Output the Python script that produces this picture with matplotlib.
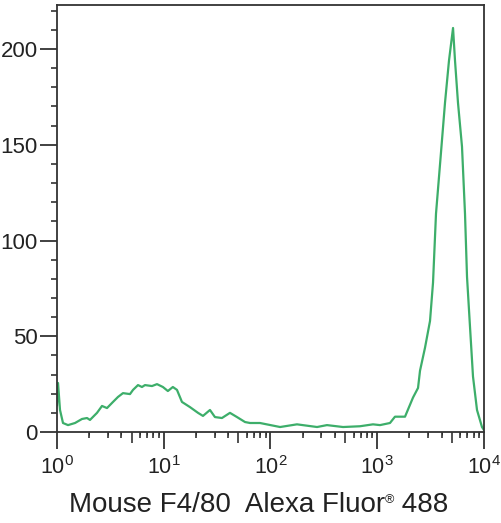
import numpy as np
import matplotlib
matplotlib.use("Agg")
import matplotlib.pyplot as plt
from matplotlib.ticker import LogLocator, FixedLocator, MultipleLocator, NullFormatter

plt.rcParams['font.family'] = ['Liberation Sans', 'DejaVu Sans']
plt.rcParams['mathtext.fontset'] = 'custom'
plt.rcParams['mathtext.rm'] = 'Liberation Sans'
plt.rcParams['mathtext.it'] = 'Liberation Sans:italic'
plt.rcParams['mathtext.bf'] = 'Liberation Sans:bold'

# Fluorescence intensity (x) and event counts (y)
intensity = [1.0, 1.022, 1.067, 1.138, 1.268, 1.475, 1.715, 1.91, 2.037, 2.37,
             2.64, 2.94, 3.346, 3.726, 4.149, 4.829, 5.155, 5.739, 6.251, 6.669,
             7.762, 8.642, 9.822, 10.93, 12.17, 13.3, 14.81, 17.61, 20.94, 23.31,
             27.1, 30.17, 35.08, 41.71, 48.55, 57.75, 64.3, 79.7, 123, 177,
             273, 338, 478, 689, 912, 1061, 1316, 1466, 1820, 2163, 2410, 2515,
             2801, 3121, 3330, 3551, 3955, 4313, 4700, 5128, 5350, 5705, 6222,
             6638, 6933, 7393, 7887, 8599, 9576, 10000]
counts = [14, 25.6, 11.5, 4.7, 3.6, 4.7, 6.8, 7.3, 6.3, 10,
          13.6, 12.5, 15.7, 18.3, 20.3, 19.8, 22, 24.5, 23.5, 24.5,
          24, 25, 23.5, 21.4, 23.5, 22, 15.7, 13, 10, 8.4,
          11.5, 7.8, 7.3, 10, 7.8, 5.2, 4.7, 4.7, 2.6, 4,
          2.6, 3.6, 2.6, 3, 4, 3.6, 4.7, 8, 8, 18, 23, 32,
          44, 58, 78, 114, 146, 172, 194, 211, 194, 172, 149,
          114, 81, 55, 29, 11.5, 2.6, 1]

xlabel_parts = ["Mouse F4/80  Alexa Fluor", "\u00ae", " 488"]
yticks = [0, 50, 100, 150, 200]

W, H = 502, 523
fig = plt.figure(figsize=(W/100, H/100), dpi=100)
ax = fig.add_axes([57/W, 1-432/H, (484-57)/W, (432-5)/H])

ax.plot(intensity, counts, color='#3dae6a', lw=1.6, solid_joinstyle='round')

ax.set_xscale('log')
ax.set_xlim(1, 1e4)
ax.set_ylim(0, 223)

spine_c = '#333333'
for s in ax.spines.values():
    s.set_color(spine_c)
    s.set_linewidth(1.3)

ax.xaxis.set_major_locator(LogLocator(base=10, numticks=10))
ax.xaxis.set_minor_locator(FixedLocator([m * 10**d for d in range(4) for m in (2, 3, 4, 6, 7, 8, 9)]))
ax.xaxis.set_minor_formatter(NullFormatter())
ax.set_yticks(yticks)
ax.yaxis.set_minor_locator(MultipleLocator(10))

ax.tick_params(which='major', direction='out', length=12, width=1.3, color=spine_c,
               labelsize=16, labelcolor='#222222', pad=2, top=False, right=False)
ax.tick_params(which='minor', direction='out', length=4.5, width=1.2, color=spine_c,
               top=False, right=False)
ax.tick_params(axis='x', which='major', labelsize=15.5, pad=5)

sec = ax.secondary_xaxis('bottom')
sec.set_xticks([5 * 10**d for d in range(4)])
sec.tick_params(direction='out', length=8, width=1.2, color=spine_c, labelbottom=False)
sec.spines['bottom'].set_visible(False)

# x label built from parts so the registered sign can be small
fs = 20
base_y = 1 - 512/H
texts = []
sizes = [fs, fs*0.45, fs]
raises = [0, 9, 0]
for part, sz, r in zip(xlabel_parts, sizes, raises):
    texts.append(fig.text(0, base_y + r/H, part, fontsize=sz, color='#222222',
                          ha='left', va='baseline'))
fig.canvas.draw()
r = fig.canvas.get_renderer()
widths = [t.get_window_extent(r).width for t in texts]
total = sum(widths)
x0 = 258.5 - total/2
for t, w in zip(texts, widths):
    t.set_x(x0/W)
    x0 += w

fig.savefig('out.png', dpi=100, facecolor='white')
